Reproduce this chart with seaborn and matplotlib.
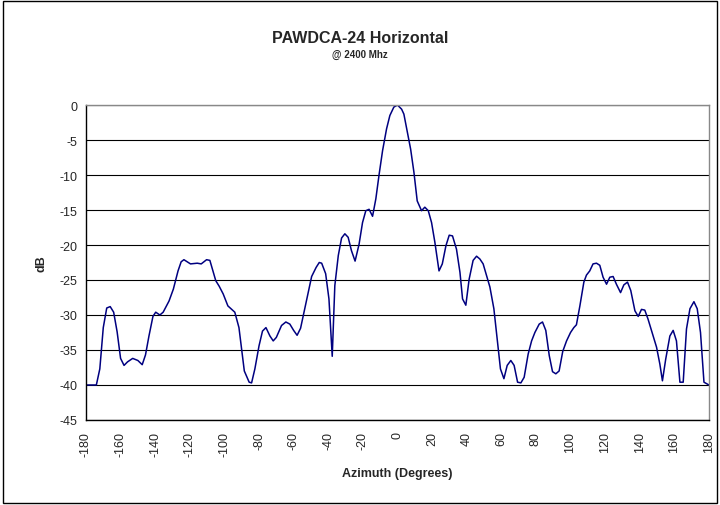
import matplotlib
matplotlib.use("Agg")
import matplotlib.pyplot as plt
import matplotlib.ticker as mticker
import pandas as pd
import seaborn as sns

# --- Data ---

azimuth = [
    -180, -174, -172, -170, -168, -166, -164, -162, -160, -158, -156, -153,
    -150, -147.5, -145.6, -143.6, -141.3, -139.7, -137.3, -135.4, -132, -129.5,
    -126.8, -125, -123.4, -119.6, -115.7, -113.4, -110.3, -108.4, -105, -103,
    -100.7, -98, -94, -91.6, -88.5, -85.7, -84.3, -82.4, -80, -78, -76, -73.7,
    -71.8, -70, -67, -64.5, -62.2, -60, -58, -56, -54, -51.6, -49.6, -47,
    -45.2, -43.8, -41.5, -39.6, -37.7, -36.2, -34.2, -32.3, -30.4, -28.5,
    -26.6, -24.5, -22.2, -20.2, -18.3, -16.4, -14.4, -12.5, -10.6, -8.6,
    -6.3, -4.4, -2.1, 0, 2.4, 3.7, 5.6, 7.6, 9.5, 11.4, 13.9, 15.8, 17.8,
    19.7, 21.6, 24, 25.9, 28, 29.9, 31.8, 34.1, 36.1, 37.6, 39.5, 41.4, 43.7,
    45.7, 47.6, 49.5, 51.5, 53.4, 55.7, 57.6, 59.5, 61.5, 63.4, 65.5, 67.4,
    69.4, 71.3, 73.2, 75.5, 77.5, 79.4, 81.9, 83.8, 85.7, 87.7, 89.6, 91.5,
    93.4, 95.5, 97.7, 100, 101.9, 103.4, 105.4, 107.7, 109.2, 111.1, 113, 115,
    116.9, 118.8, 120.8, 122.7, 124.6, 126.5, 128.9, 130.8, 132.9, 134.8,
    137.2, 139.1, 141, 142.9, 144.8, 147.4, 149.7, 151.6, 153.1, 155, 157.4,
    159.3, 161.2, 163.2, 165.1, 167, 169, 171.3, 173.2, 175.1, 177.1, 180,
]

gain_db = [
    -40, -40, -37.7, -31.8, -29, -28.8, -29.6, -32.4, -36.2, -37.2, -36.7, -36.2,
    -36.5, -37.1, -35.7, -33, -30.2, -29.6, -30, -29.6, -28, -26.3,
    -23.7, -22.4, -22.1, -22.7, -22.6, -22.7, -22.1, -22.2, -25.1, -25.9,
    -27, -28.7, -29.6, -31.8, -38, -39.6, -39.7, -37.7, -34.4, -32.3, -31.8, -33,
    -33.7, -33.2, -31.5, -31, -31.3, -32.2, -32.9, -31.9, -29.6, -26.8, -24.5, -23.2,
    -22.5, -22.6, -24.1, -27.7, -35.9, -25.8, -21.5, -19, -18.4, -18.9,
    -20.8, -22.3, -19.9, -16.8, -15.1, -14.9, -15.9, -13.4, -9.9, -6.5,
    -3.4, -1.5, -0.3, 0, -0.6, -1.3, -3.7, -6.3, -9.6, -13.7, -15.1, -14.6, -15.1,
    -16.8, -19.6, -23.7, -22.7, -20.1, -18.6, -18.7, -20.6, -23.9, -27.7, -28.6, -24.9, -22.2,
    -21.6, -22, -22.7, -24.4, -26, -29.1, -33.4, -37.7, -39.1, -37.2, -36.5, -37.2,
    -39.6, -39.7, -38.9, -35.6, -33.7, -32.5, -31.3, -31, -32.2, -35.8, -38.1, -38.4,
    -38, -35.2, -33.7, -32.5, -31.8, -31.4, -28.7, -25.3, -24.3, -23.7, -22.7, -22.6,
    -22.9, -24.6, -25.6, -24.6, -24.5, -25.6, -26.8, -25.7, -25.3, -26.5,
    -29.4, -30.2, -29.2, -29.3, -30.6, -32.7, -34.6, -37, -39.4, -36.3, -33,
    -32.2, -33.7, -39.6, -39.6, -32, -29.1, -28.1, -29.1, -32.5, -39.6, -40,
]

x_ticks = list(range(-180, 181, 20))
y_ticks = list(range(-45, 1, 5))

# --- Plot ---

sns.set_style("white")
plt.rcParams['font.family'] = ['Liberation Sans', 'DejaVu Sans']

df = pd.DataFrame({'Azimuth': azimuth, 'dB': gain_db})

fig = plt.figure(figsize=(7.2, 5.06), dpi=100)
ax = fig.add_axes([0.1194, 0.168, 0.8653, 0.6225])

sns.lineplot(data=df, x='Azimuth', y='dB', ax=ax, color='#000080',
             linewidth=1.1, estimator=None, sort=False)

ax.set_xlim(-180, 180)
ax.set_ylim(-45, 0)
ax.set_yticks(y_ticks)
ax.set_xticks(x_ticks)
ax.xaxis.set_minor_locator(mticker.MultipleLocator(10))
ax.set_xticklabels([str(t) for t in x_ticks], rotation=90, fontsize=9)
ax.set_yticklabels([str(t) for t in y_ticks], fontsize=9)
ax.tick_params(axis='both', which='both', direction='out', length=4,
               width=0.8, color='black', pad=2)
ax.tick_params(axis='x', which='major', pad=4)

ax.yaxis.grid(True, color='black', linewidth=0.8)
ax.xaxis.grid(False)
ax.set_axisbelow(True)

for side in ['left', 'bottom']:
    ax.spines[side].set_color('black')
    ax.spines[side].set_linewidth(1.0)
for side in ['top', 'right']:
    ax.spines[side].set_color('#888888')
    ax.spines[side].set_linewidth(1.0)

ax.set_xlabel('Azimuth (Degrees)', fontsize=9, fontweight='bold', labelpad=8)
ax.set_ylabel('dB', fontsize=9, fontweight='bold', labelpad=9)

fig.text(0.5, 0.924, 'PAWDCA-24 Horizontal', ha='center', va='center',
         fontsize=11.5, fontweight='bold')
fig.text(0.5, 0.891, '@ 2400 Mhz', ha='center', va='center',
         fontsize=7, fontweight='bold')

# outer chart border
fig.patches.append(plt.Rectangle((0.004, 0.004), 0.992, 0.992,
                                 transform=fig.transFigure, fill=False,
                                 edgecolor='black', linewidth=1.0))

fig.savefig('out.png', dpi=100)
